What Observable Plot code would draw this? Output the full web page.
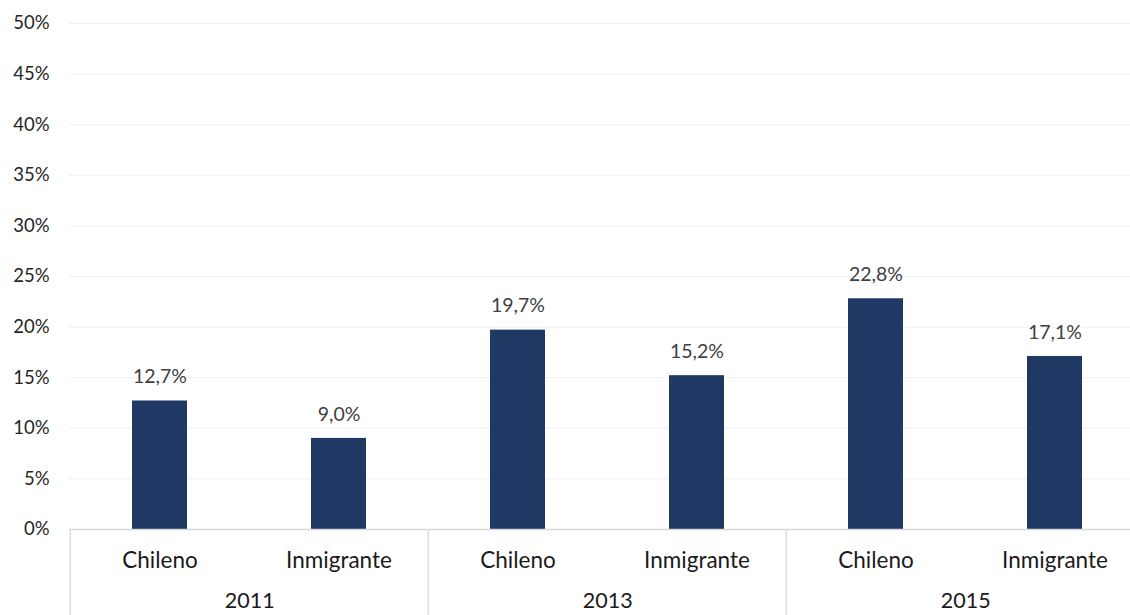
<!DOCTYPE html>
<html>
<head>
<meta charset="utf-8">
<script src="https://cdn.jsdelivr.net/npm/d3@7"></script>
<script src="https://cdn.jsdelivr.net/npm/@observablehq/plot@0.6"></script>
<style>
  html, body { margin: 0; padding: 0; background: #fff; }
  #chart { width: 1130px; height: 615px; overflow: hidden; }
</style>
</head>
<body>
<div id="chart"></div>
<script>
const years = ["2011", "2013", "2015"];
const groups = ["Chileno", "Inmigrante"];
const values = [
  [12.7, 9.0],
  [19.7, 15.2],
  [22.8, 17.1]
];
const yTicks = [0, 5, 10, 15, 20, 25, 30, 35, 40, 45, 50];

const data = years.flatMap((yr, i) => groups.map((g, j) => ({
  key: yr + "|" + g, year: yr, group: g, value: values[i][j]
})));
const keys = data.map(d => d.key);
const yearData = years.map(yr => ({year: yr, key: yr + "|" + groups[0]}));

const left = 69, right = 1146;
const step = (right - left) / keys.length;

const plot = Plot.plot({
  width: 1130,
  height: 615,
  marginTop: 23,
  marginBottom: 86,
  marginLeft: left,
  marginRight: 0,
  style: {fontFamily: "Lato, 'Open Sans', sans-serif", fontSize: "18px", background: "#fff"},
  x: {domain: keys, range: [left, right], paddingInner: 0.69, paddingOuter: 0.345, axis: null},
  y: {domain: [0, 50], axis: null},
  marks: [
    Plot.gridY(yTicks.filter(t => t > 0), {stroke: "#EFEFEF", strokeOpacity: 1}),
    Plot.axisY(yTicks, {tickSize: 0, tickPadding: 20, label: null, tickFormat: d => d + "%", fontSize: 18.5, fill: "#262626"}),
    Plot.barY(data, {x: "key", y: "value", fill: "#203864"}),
    Plot.text(data, {x: "key", y: "value", text: d => d.value.toFixed(1).replace(".", ",") + "%", dy: -24, fontSize: 19.5, fill: "#404040"}),
    Plot.ruleY([0], {stroke: "#D9D9D9", strokeWidth: 1.3}),
    Plot.text(data, {x: "key", y: 0, text: "group", dy: 31, fontSize: 22.5, fill: "#1a1a1a"}),
    Plot.text(yearData, {x: "key", y: 0, text: "year", dx: step / 2, dy: 72, fontSize: 21.5, fill: "#1a1a1a"}),
    Plot.ruleX(yearData, {x: "key", y1: 0, y2: 0, dx: -step / 2, insetBottom: -86, stroke: "#D9D9D9", strokeWidth: 1.3})
  ]
});
document.getElementById("chart").appendChild(plot);
</script>
</body>
</html>
